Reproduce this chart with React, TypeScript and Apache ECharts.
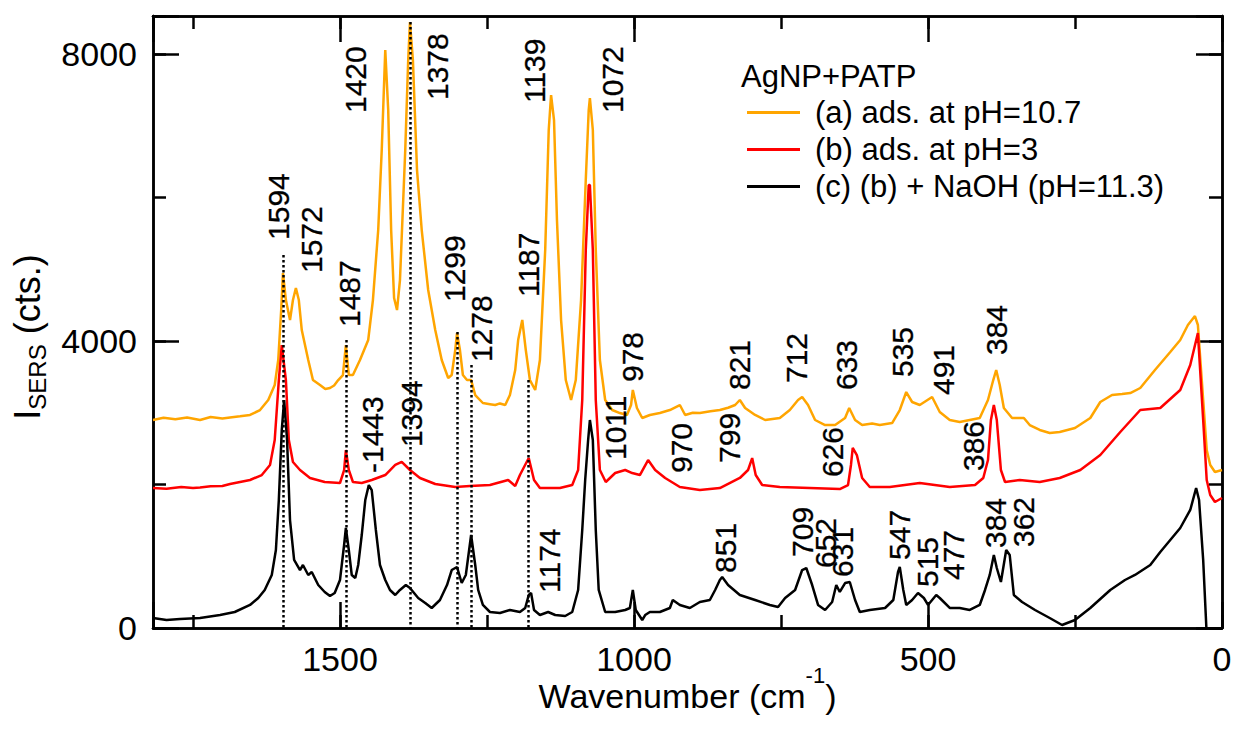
import React, { useEffect, useRef } from 'react';
import * as echarts from 'echarts';

const FONT = 'Liberation Sans, Arial, sans-serif';

const seriesNames = ['(a) ads. at pH=10.7', '(b) ads. at pH=3', '(c) (b) + NaOH (pH=11.3)'];
const seriesColors = ['#FFA500', '#FF0000', '#000000'];
const legendTitle = 'AgNP+PATP';

const xTicks = [0, 500, 1000, 1500];
const yTicks = [0, 4000, 8000];

// (a) orange spectrum: [wavenumber, counts]
const spectrumA: number[][] = [
  [1818, 2899], [1800, 2930], [1780, 2910], [1760, 2935], [1738, 2899], [1720, 2940], [1700, 2920], [1687, 2935],
  [1670, 2950], [1653, 2969], [1636, 3038], [1622, 3178],
  [1611, 3387], [1605, 3735], [1600, 4432], [1597, 4948], [1592, 4571], [1585, 4293], [1580, 4571], [1575, 4739],
  [1570, 4571], [1565, 4153], [1554, 3735], [1546, 3456], [1534, 3387], [1525, 3330], [1517, 3345], [1510, 3380], [1503, 3456], [1495, 3526],
  [1490, 3944], [1485, 3526], [1478, 3526], [1466, 3735], [1452, 4014], [1444, 4571], [1435, 5547], [1429, 6662],
  [1423, 8056], [1418, 7219], [1413, 5547], [1408, 4599], [1403, 4432], [1398, 4850], [1389, 6662], [1384, 7916],
  [1381, 8446], [1376, 7916], [1369, 6383], [1361, 5547], [1350, 4711], [1338, 4153], [1327, 3735], [1316, 3484],
  [1310, 3526], [1304, 3874], [1301, 4111], [1296, 3874], [1291, 3526], [1284, 3456], [1277, 3456], [1270, 3247],
  [1257, 3136], [1245, 3120], [1236, 3108], [1228, 3130], [1219, 3108], [1211, 3247], [1202, 3596], [1197, 4014], [1190, 4293], [1184, 3874],
  [1177, 3456], [1168, 3317], [1160, 3735], [1151, 5268], [1145, 6941], [1141, 7428], [1136, 7080], [1131, 5686],
  [1124, 4293], [1116, 3456], [1107, 3178], [1099, 3456], [1090, 4571], [1082, 6244], [1077, 7219], [1075, 7387],
  [1070, 6941], [1065, 5268], [1058, 3735], [1049, 3178], [1037, 3038], [1024, 2996], [1012, 2969], [1005, 3108],
  [1002, 3317], [995, 3066], [986, 2927], [973, 2969], [956, 2996], [939, 3038], [922, 3108], [913, 2969],
  [900, 3000], [888, 2996], [870, 3020], [854, 3038], [840, 3070], [828, 3108], [820, 3178], [811, 3066], [794, 2969], [777, 2899], [752, 2927],
  [735, 3038], [721, 3178], [714, 3219], [704, 3108], [692, 2899], [675, 2829], [658, 2829], [641, 2927],
  [634, 3066], [624, 2899], [612, 2829], [595, 2850], [582, 2829], [561, 2857], [548, 3038], [537, 3289], [527, 3150],
  [514, 3108], [493, 3219], [480, 3010], [463, 2899], [446, 2871], [429, 2899], [412, 2927], [398, 3178],
  [389, 3456], [384, 3596], [378, 3387], [371, 3066], [357, 2927], [337, 2927], [327, 2829], [310, 2760],
  [293, 2718], [276, 2732], [250, 2787], [224, 2927], [207, 3150], [187, 3247], [170, 3260], [156, 3275], [139, 3345],
  [114, 3596], [88, 3847], [71, 4014], [58, 4223], [46, 4348], [41, 4223], [32, 3178], [26, 2481],
  [20, 2272], [12, 2174], [0, 2202],
];

// (b) red spectrum
const spectrumB: number[][] = [
  [1818, 1951], [1795, 1940], [1770, 1965], [1750, 1950], [1738, 1958], [1720, 1975], [1700, 1979], [1687, 2007],
  [1653, 2063], [1633, 2132], [1619, 2272],
  [1611, 2620], [1604, 3456], [1599, 3944], [1592, 3456], [1587, 2620], [1580, 2314], [1568, 2202], [1551, 2091],
  [1526, 2035], [1500, 2021], [1493, 2202], [1490, 2481], [1485, 2202], [1478, 2035], [1463, 2021], [1446, 2063],
  [1423, 2132], [1406, 2272], [1395, 2314], [1381, 2202], [1364, 2091], [1338, 2007], [1304, 1965], [1279, 1979],
  [1245, 1993], [1214, 2063], [1202, 1979], [1194, 2132], [1179, 2369], [1170, 2063], [1160, 1951], [1126, 1951],
  [1105, 1993], [1095, 2202], [1088, 3178], [1082, 5268], [1077, 6174], [1075, 6174], [1070, 5268], [1065, 3178],
  [1058, 2202], [1048, 2035], [1032, 2160], [1015, 2202], [1003, 2160], [990, 2132], [976, 2341], [964, 2202],
  [947, 2091], [922, 1965], [888, 1923], [854, 1951], [820, 2091], [806, 2202], [799, 2369], [793, 2132],
  [782, 1993], [752, 1965], [701, 1951], [650, 1937], [636, 1993], [631, 2272], [628, 2509], [621, 2411],
  [612, 2091], [599, 1965], [565, 1965], [514, 2021], [463, 1965], [420, 1993], [406, 2091], [398, 2341],
  [393, 2899], [388, 3108], [383, 2899], [376, 2202], [369, 2035], [344, 2063], [310, 2035], [276, 2091],
  [241, 2202], [207, 2411], [173, 2732], [139, 3038], [105, 3066], [71, 3317], [54, 3665], [41, 4111],
  [32, 2899], [26, 2063], [20, 1854], [12, 1756], [0, 1812],
];

// (c) black spectrum
const spectrumC: number[][] = [
  [1818, 139], [1795, 111], [1772, 125], [1738, 139], [1704, 181], [1679, 223], [1653, 321], [1639, 418],
  [1628, 530], [1616, 739], [1609, 1087], [1604, 1784], [1599, 2760], [1595, 3178], [1590, 2620], [1585, 1505],
  [1578, 948], [1568, 808], [1563, 878], [1554, 739], [1548, 780], [1537, 599], [1526, 502], [1517, 446],
  [1509, 488], [1500, 669], [1493, 1157], [1490, 1394], [1485, 1087], [1480, 739], [1474, 697], [1469, 878],
  [1463, 1296], [1457, 1784], [1451, 1993], [1446, 1923], [1439, 1366], [1432, 878], [1423, 669], [1415, 530],
  [1406, 460], [1398, 530], [1388, 599], [1381, 557], [1367, 418], [1355, 348], [1344, 279], [1330, 390],
  [1318, 599], [1310, 808], [1301, 850], [1293, 627], [1286, 739], [1277, 1296], [1270, 878], [1265, 530],
  [1257, 321], [1245, 223], [1228, 209], [1211, 251], [1194, 223], [1185, 279], [1179, 460], [1175, 488],
  [1170, 251], [1160, 181], [1146, 223], [1134, 181], [1117, 167], [1105, 223], [1095, 530], [1088, 1366],
  [1083, 2063], [1078, 2620], [1075, 2899], [1070, 2620], [1065, 1366], [1060, 530], [1049, 223], [1032, 223],
  [1015, 251], [1007, 279], [1002, 530], [997, 251], [986, 111], [981, 181], [973, 223], [956, 223],
  [939, 279], [934, 390], [922, 321], [905, 279], [888, 362], [871, 390], [862, 530], [854, 669],
  [850, 711], [840, 599], [820, 460], [794, 390], [769, 321], [755, 293], [743, 418], [726, 530],
  [714, 808], [707, 836], [697, 599], [687, 321], [675, 251], [663, 362], [656, 599], [650, 502],
  [641, 627], [633, 641], [624, 390], [616, 223], [599, 251], [573, 279], [559, 390], [551, 780],
  [548, 850], [542, 530], [537, 321], [527, 390], [517, 488], [507, 418], [500, 321], [486, 460],
  [480, 418], [463, 279], [446, 279], [429, 251], [412, 321], [403, 530], [395, 739], [388, 1017],
  [383, 836], [376, 641], [367, 1087], [361, 1017], [354, 460], [340, 362], [318, 251], [293, 139],
  [272, 42], [250, 111], [224, 279], [190, 530], [165, 669], [148, 739], [122, 878], [105, 1059],
  [88, 1226], [71, 1394], [54, 1645], [44, 1951], [39, 1784], [32, 948], [26, -100], [20, -400],
];

// dotted guide lines: [wavenumber, top counts]
const dottedLines: number[][] = [
  [1597, 5200], [1490, 4014], [1381, 8446], [1301, 4125], [1277, 3665], [1179, 3456],
];

// peak annotations: [wavenumber, counts at text start, text]
const peakLabels: [number, number, string][] = [
  [1605, 5408, '1594'], [1548, 4948, '1572'], [1483, 4195, '1487'], [1473, 7178, '1420'],
  [1335, 7359, '1378'], [1306, 4543, '1299'], [1259, 3707, '1278'], [1180, 4613, '1187'],
  [1170, 7317, '1139'], [1037, 7178, '1072'], [1003, 3428, '978'], [821, 3317, '821'],
  [723, 3414, '712'], [639, 3317, '633'], [544, 3498, '535'], [473, 3247, '491'],
  [383, 3805, '384'], [1444, 2160, '-1443'], [1378, 2523, '1394'], [1032, 2341, '1011'],
  [920, 2160, '970'], [837, 2300, '799'], [662, 2104, '626'], [423, 2188, '386'],
  [1143, 488, '1174'], [845, 767, '851'], [714, 990, '709'], [675, 836, '652'],
  [646, 711, '631'], [549, 948, '547'], [500, 571, '515'], [457, 669, '477'],
  [386, 1115, '384'], [338, 1129, '362'],
];

const X_MIN = 0;
const X_MAX = 1818;
const Y_MIN = 0;
const Y_MAX = 8530;

function buildOption() {
  const frame = { color: '#000', width: 2.5 };
  const longTick = { show: true, inside: true, length: 26, lineStyle: { color: '#000', width: 2.5 } };
  const shortTick = { show: true, inside: true, length: 13, lineStyle: { color: '#000', width: 2.5 } };
  const xBase = {
    type: 'value', min: X_MIN, max: X_MAX, inverse: true,
    splitLine: { show: false },
    axisLine: { show: true, onZero: false, lineStyle: frame },
  };
  const yBase = {
    type: 'value', min: Y_MIN, max: Y_MAX,
    splitLine: { show: false },
    axisLine: { show: true, onZero: false, lineStyle: frame },
  };
  const noLabel = { show: false };

  return {
    animation: false,
    backgroundColor: '#ffffff',
    grid: { left: 153, right: 12, top: 16, bottom: 101, containLabel: false, outerBoundsMode: 'none' },
    title: {
      text: legendTitle, left: 741, top: 61, padding: 0,
      textStyle: { fontSize: 31, fontWeight: 'normal', fontFamily: FONT, color: '#000' },
    },
    legend: {
      data: seriesNames.map((n) => ({ name: n, icon: 'rect' })), orient: 'vertical', left: 747, top: 97, padding: 0,
      itemWidth: 53, itemHeight: 3, itemGap: 6, selectedMode: false,
      textStyle: { fontSize: 31, fontFamily: FONT, color: '#000', lineHeight: 30, padding: [0, 0, 0, 10] },
    },
    xAxis: [
      {
        ...xBase, position: 'bottom', interval: 500, axisTick: longTick,
        axisLabel: {
          show: true, margin: 14, fontSize: 34, color: '#000', fontFamily: FONT,
          formatter: (v: number) => (xTicks.includes(v) ? String(v) : ''),
        },
        name: '{n|Wavenumber (cm}{s|-1}{n|)}', nameLocation: 'middle', nameGap: 36, nameMoveOverlap: false,
        nameTextStyle: {
          rich: {
            n: { fontSize: 34, fontFamily: FONT, color: '#000', lineHeight: 64 },
            s: { fontSize: 22, fontFamily: FONT, color: '#000', lineHeight: 16, verticalAlign: 'top' },
          },
        },
      },
      { ...xBase, position: 'top', interval: 500, axisTick: longTick, axisLabel: noLabel },
      { ...xBase, position: 'bottom', interval: 250, axisTick: shortTick, axisLabel: noLabel },
      { ...xBase, position: 'top', interval: 250, axisTick: shortTick, axisLabel: noLabel },
    ],
    yAxis: [
      {
        ...yBase, position: 'left', interval: 4000, axisTick: longTick,
        axisLabel: {
          show: true, margin: 16, fontSize: 34, color: '#000', fontFamily: FONT,
          formatter: (v: number) => (yTicks.includes(v) ? String(v) : ''),
        },
        name: '{b|I}{sub|SERS}{b| (cts.)}', nameLocation: 'middle', nameGap: 104, nameRotate: 90, nameMoveOverlap: false,
        nameTextStyle: {
          padding: [0, 30, 0, 0],
          rich: {
            b: { fontSize: 36, fontFamily: FONT, color: '#000', lineHeight: 44 },
            sub: { fontSize: 24, fontFamily: FONT, color: '#000', lineHeight: 20, verticalAlign: 'bottom' },
          },
        },
      },
      { ...yBase, position: 'right', interval: 4000, axisTick: longTick, axisLabel: noLabel },
      { ...yBase, position: 'left', interval: 2000, axisTick: shortTick, axisLabel: noLabel },
      { ...yBase, position: 'right', interval: 2000, axisTick: shortTick, axisLabel: noLabel },
    ],
    series: [
      ...[spectrumA, spectrumB, spectrumC].map((d, i) => ({
        type: 'line', name: seriesNames[i], data: d, xAxisIndex: 0, yAxisIndex: 0,
        symbol: 'none', showSymbol: false, clip: true, z: 2 + i,
        lineStyle: { color: seriesColors[i], width: 2.5 }, itemStyle: { color: seriesColors[i] },
        markLine: i === 2 ? {
          silent: true, symbol: ['none', 'none'], animation: false,
          lineStyle: { type: 'dotted', color: '#000', width: 2.5 },
          label: { show: false },
          data: dottedLines.map(([x, y]) => [{ coord: [x, y] }, { coord: [x, 0] }]),
        } : undefined,
      })),
      {
        type: 'scatter', name: 'peaks', xAxisIndex: 0, yAxisIndex: 0, silent: true, z: 10,
        symbol: 'circle', symbolSize: 1, itemStyle: { color: 'rgba(0,0,0,0)' },
        data: peakLabels.map(([x, y, t]) => ({ value: [x, y], label: { formatter: t } })),
        label: {
          show: true, position: 'inside', rotate: 90, align: 'left', verticalAlign: 'middle',
          fontSize: 30, fontFamily: FONT, color: '#000', opacity: 1,
          textBorderWidth: 0.3, textBorderColor: '#000',
        },
      },
    ],
  };
}

export default function App() {
  const ref = useRef<HTMLDivElement>(null);
  useEffect(() => {
    if (!ref.current) return;
    const chart = echarts.init(ref.current, null, { renderer: 'svg', width: 1234, height: 729 });
    chart.setOption(buildOption() as any);
    return () => chart.dispose();
  }, []);
  return (
    <div
      ref={ref}
      style={{ position: 'absolute', left: 0, top: 0, width: 1234, height: 729, background: '#fff' }}
    />
  );
}
